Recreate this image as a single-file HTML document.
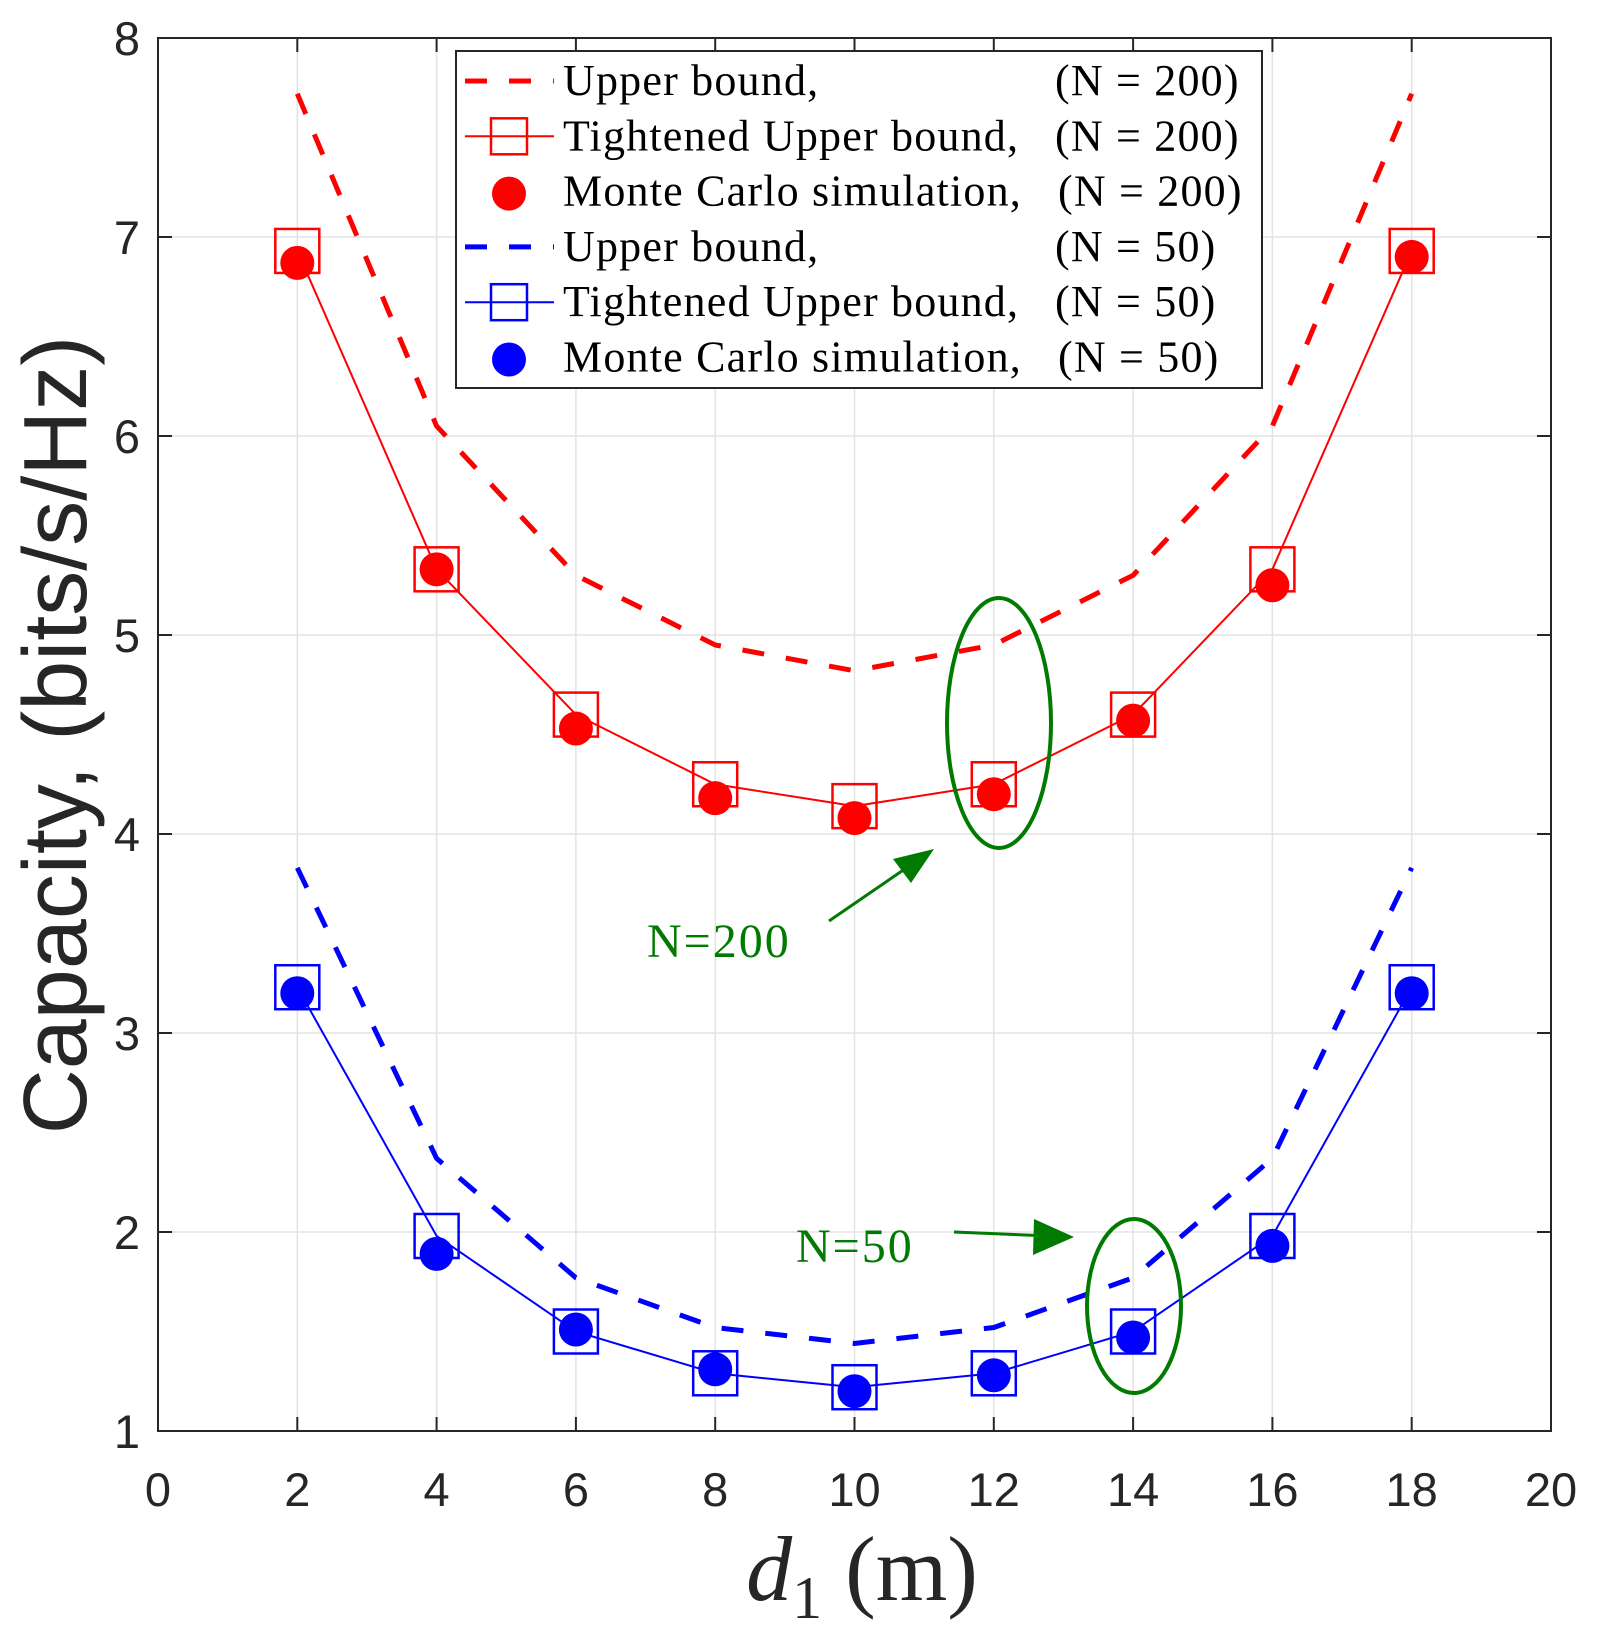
<!DOCTYPE html>
<html><head><meta charset="utf-8"><style>
html,body{margin:0;padding:0;background:#fff;}
svg{display:block;}
.tick{font-family:"Liberation Sans",sans-serif;font-size:47px;fill:#262626;}
.leg{font-family:"Liberation Serif",serif;font-size:44px;fill:#000;letter-spacing:1.2px;}
</style></head><body>
<svg id="chart" width="1599" height="1633" viewBox="0 0 1599 1633" xmlns="http://www.w3.org/2000/svg">
<g id="grid"></g>
<g id="series"></g>
<rect x="158" y="38" width="1393" height="1393" fill="none" stroke="#262626" stroke-width="2"/>
<g id="ticks"></g>
<text transform="translate(86,735) rotate(-90)" text-anchor="middle" font-family="Liberation Sans, sans-serif" font-size="90" fill="#262626">Capacity, (bits/s/Hz)</text>
<text x="862" y="1600" text-anchor="middle" font-family="Liberation Serif, serif" font-size="92" fill="#262626"><tspan font-style="italic">d</tspan><tspan font-size="60" dy="18">1</tspan><tspan dy="-18">  (m)</tspan></text>
<g stroke="#007a00" fill="none" stroke-width="4">
<ellipse cx="999" cy="723" rx="52" ry="125"/>
<ellipse cx="1134" cy="1306" rx="47" ry="87"/>
<line x1="829" y1="921" x2="915" y2="862" stroke-width="3"/>
<polygon points="934,849 893,859 911,883" fill="#007a00" stroke="none"/>
<line x1="954" y1="1232" x2="1050" y2="1236" stroke-width="3"/>
<polygon points="1074,1237 1034,1219 1033,1255" fill="#007a00" stroke="none"/>
</g>
<text x="647" y="957" font-family="Liberation Serif, serif" font-size="48" letter-spacing="2" fill="#007a00">N=200</text>
<text x="796" y="1262" font-family="Liberation Serif, serif" font-size="48" letter-spacing="2" fill="#007a00">N=50</text>
<g id="legend"></g>
</svg>
<script>
const xs = [2,4,6,8,10,12,14,16,18];
const redUB = [7.72,6.05,5.3,4.95,4.82,4.95,5.3,6.05,7.72];
const redTUB = [6.93,5.33,4.6,4.25,4.14,4.25,4.6,5.33,6.93];
const redMC = [6.87,5.33,4.53,4.18,4.08,4.2,4.57,5.25,6.9];
const blueUB = [3.83,2.37,1.77,1.52,1.44,1.52,1.77,2.37,3.83];
const blueTUB = [3.23,1.98,1.5,1.29,1.22,1.29,1.5,1.98,3.23];
const blueMC = [3.2,1.89,1.51,1.31,1.2,1.28,1.47,1.93,3.2];
const xTicks = [0,2,4,6,8,10,12,14,16,18,20];
const yTicks = [1,2,3,4,5,6,7,8];
const legendLabels = ["Upper bound,","Tightened Upper bound,","Monte Carlo simulation,","Upper bound,","Tightened Upper bound,","Monte Carlo simulation,"];
const legendN = ["(N = 200)","(N = 200)","(N = 200)","(N = 50)","(N = 50)","(N = 50)"];

const NS="http://www.w3.org/2000/svg";
const X0=158,X1=1551,Y0=1431,Y1=38;
function sx(v){return X0+(v-0)/20*(X1-X0);}
function sy(v){return Y0-(v-1)/7*(Y0-Y1);}
function mk(tag,attrs,parent){const e=document.createElementNS(NS,tag);for(const k in attrs)e.setAttribute(k,attrs[k]);parent.appendChild(e);return e;}
const grid=document.getElementById('grid'),ticks=document.getElementById('ticks'),ser=document.getElementById('series'),leg=document.getElementById('legend');
xTicks.forEach(t=>{
 const x=sx(t);
 const l=mk('line',{x1:x,x2:x,y1:Y1,y2:Y0,stroke:'#e3e3e3','stroke-width':1.5},grid);
 
 
 const a=mk('line',{x1:x,x2:x,y1:Y0,y2:Y0-14,stroke:'#262626','stroke-width':2},ticks);
 
 
 const b=mk('line',{x1:x,x2:x,y1:Y1,y2:Y1+14,stroke:'#262626','stroke-width':2},ticks);
 
 
 const tx=mk('text',{x:x,y:1506,'text-anchor':'middle',class:'tick'},ticks);tx.textContent=t;
 
 
});
yTicks.forEach(t=>{
 const y=sy(t);
 const l=mk('line',{x1:X0,x2:X1,y1:y,y2:y,stroke:'#e3e3e3','stroke-width':1.5},grid);
 
 
 const a=mk('line',{x1:X0,x2:X0+14,y1:y,y2:y,stroke:'#262626','stroke-width':2},ticks);
 
 
 const b=mk('line',{x1:X1,x2:X1-14,y1:y,y2:y,stroke:'#262626','stroke-width':2},ticks);
 
 
 const tx=mk('text',{x:140,y:y+17,'text-anchor':'end',class:'tick'},ticks);tx.textContent=t;
 
 
});
function pts(arr){return arr.map((v,i)=>sx(xs[i])+','+sy(v)).join(' ');}
function series(col,ub,tub,mc,name){
 const d=mk('polyline',{points:pts(ub),fill:'none',stroke:col,'stroke-width':5,'stroke-dasharray':'22 22'},ser);
 
 
 const s=mk('polyline',{points:pts(tub),fill:'none',stroke:col,'stroke-width':2},ser);
 
 
 tub.forEach((v,i)=>{
  const r=mk('rect',{x:sx(xs[i])-22,y:sy(v)-22,width:44,height:44,fill:'none',stroke:col,'stroke-width':2.5},ser);
  
  
 });
 mc.forEach((v,i)=>{
  const c=mk('circle',{cx:sx(xs[i]),cy:sy(v),r:17,fill:col},ser);
  
  
 });
}
series('#ff0000',redUB,redTUB,redMC,'n200');
series('#0000ff',blueUB,blueTUB,blueMC,'n50');
const box=mk('rect',{x:456,y:51,width:806,height:337,fill:'#fff',stroke:'#262626','stroke-width':2},leg);


legendLabels.forEach((lab,i)=>{
 const y=81+i*55.3;const col=i<3?'#ff0000':'#0000ff';const k=i%3;
 if(k===0){const l=mk('line',{x1:465,x2:554,y1:y,y2:y,stroke:col,'stroke-width':5,'stroke-dasharray':'22 22'},leg);}
 if(k===1){const l=mk('line',{x1:465,x2:554,y1:y,y2:y,stroke:col,'stroke-width':2},leg);
  const r=mk('rect',{x:491,y:y-18,width:36,height:36,fill:'none',stroke:col,'stroke-width':2.5},leg);}
 if(k===2){const c=mk('circle',{cx:509,cy:y+2,r:17,fill:col},leg);}
 const t=mk('text',{x:563,y:y+14,class:'leg'},leg);t.textContent=lab;
 
 
 const n=mk('text',{x:k===2?1058:1055,y:y+14,class:'leg'},leg);n.textContent=legendN[i];
 
 
});
</script>
</body></html>
